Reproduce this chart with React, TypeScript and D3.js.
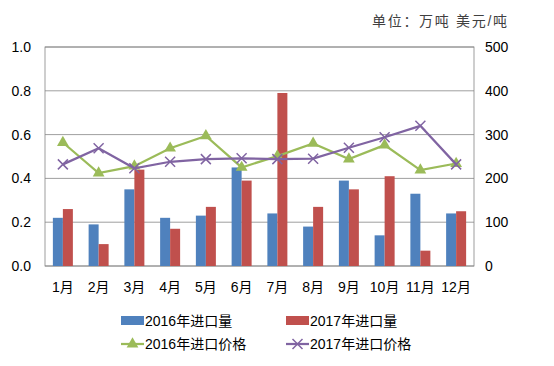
import React, { useEffect, useRef } from 'react';
import * as d3 from 'd3';

const months = ['1月', '2月', '3月', '4月', '5月', '6月', '7月', '8月', '9月', '10月', '11月', '12月'];
const volume2016 = [0.22, 0.19, 0.35, 0.22, 0.23, 0.45, 0.24, 0.18, 0.39, 0.14, 0.33, 0.24];
const volume2017 = [0.26, 0.10, 0.44, 0.17, 0.27, 0.39, 0.79, 0.27, 0.35, 0.41, 0.07, 0.25];
const price2016 = [282, 212, 228, 269, 297, 225, 251, 280, 244, 276, 219, 234];
const price2017 = [232, 269, 223, 238, 244, 246, 244, 245, 270, 294, 320, 232];
const leftTicks = [0, 0.2, 0.4, 0.6, 0.8, 1.0];
const rightTicks = [0, 100, 200, 300, 400, 500];

const BLUE = '#4F81BD';
const RED = '#C0504D';
const GREEN = '#9BBB59';
const PURPLE = '#8064A2';
const FONT = 'Arial, "Liberation Sans", "Noto Sans CJK SC", sans-serif';

const App = () => {
  const svgRef = useRef<SVGSVGElement>(null);

  useEffect(() => {
    const W = 554, H = 366;
    const left = 45, right = 474, top = 47, bottom = 266;

    const svg = d3.select(svgRef.current);
    svg.selectAll('*').remove();
    svg.attr('width', W).attr('height', H).style('background', 'white');

    const x = d3.scaleBand().domain(months).range([left, right]);
    const inner = d3.scaleBand().domain(['a', 'b']).range([0, 20]);
    const yL = d3.scaleLinear().domain([0, 1]).range([bottom, top]);
    const yR = d3.scaleLinear().domain([0, 500]).range([bottom, top]);
    const cx = (m: string) => (x(m) as number) + x.bandwidth() / 2;

    // unit note
    svg.append('text')
      .attr('x', 372).attr('y', 26)
      .attr('textLength', 135).attr('lengthAdjust', 'spacing')
      .attr('font-family', FONT)
      .attr('font-size', 14)
      .attr('fill', '#404040')
      .text('单位：万吨 美元/吨');

    // gridlines
    svg.append('g').selectAll('line')
      .data(leftTicks)
      .enter().append('line')
      .attr('x1', left).attr('x2', right)
      .attr('y1', d => yL(d)).attr('y2', d => yL(d))
      .attr('stroke', '#868686').attr('stroke-width', 0.8);

    svg.append('rect')
      .attr('x', left).attr('y', top)
      .attr('width', right - left).attr('height', bottom - top)
      .attr('fill', 'none').attr('stroke', '#868686').attr('stroke-width', 0.8);

    // left ticks
    svg.append('g').selectAll('text')
      .data(leftTicks)
      .enter().append('text')
      .attr('x', 31).attr('y', d => yL(d) + 5)
      .attr('text-anchor', 'end')
      .attr('font-family', FONT).attr('font-size', 14).attr('fill', '#000')
      .text(d => d.toFixed(1));

    // right ticks
    svg.append('g').selectAll('text')
      .data(rightTicks)
      .enter().append('text')
      .attr('x', 485).attr('y', d => yR(d) + 5)
      .attr('text-anchor', 'start')
      .attr('font-family', FONT).attr('font-size', 14).attr('fill', '#000')
      .text(d => d);

    // bars
    const bars = svg.append('g');
    bars.selectAll('rect.b16')
      .data(volume2016)
      .enter().append('rect')
      .attr('x', (d, i) => cx(months[i]) - 10 + (inner('a') as number))
      .attr('width', inner.bandwidth())
      .attr('y', d => yL(d))
      .attr('height', d => bottom - yL(d))
      .attr('fill', BLUE);
    bars.selectAll('rect.b17')
      .data(volume2017)
      .enter().append('rect')
      .attr('x', (d, i) => cx(months[i]) - 10 + (inner('b') as number))
      .attr('width', inner.bandwidth())
      .attr('y', d => yL(d))
      .attr('height', d => bottom - yL(d))
      .attr('fill', RED);

    // lines
    const line = d3.line<number>()
      .x((d, i) => cx(months[i]))
      .y(d => yR(d));

    svg.append('path')
      .datum(price2016)
      .attr('d', line)
      .attr('fill', 'none').attr('stroke', GREEN).attr('stroke-width', 2.25);
    const tri = d3.symbol().type(d3.symbolTriangle).size(60);
    svg.append('g').selectAll('path')
      .data(price2016)
      .enter().append('path')
      .attr('d', tri)
      .attr('transform', (d, i) => `translate(${cx(months[i])},${yR(d)})`)
      .attr('fill', GREEN);

    svg.append('path')
      .datum(price2017)
      .attr('d', line)
      .attr('fill', 'none').attr('stroke', PURPLE).attr('stroke-width', 2.25);
    const cross = (px: number, py: number, s: number) =>
      `M${px - s},${py - s}L${px + s},${py + s}M${px - s},${py + s}L${px + s},${py - s}`;
    svg.append('g').selectAll('path')
      .data(price2017)
      .enter().append('path')
      .attr('d', (d, i) => cross(cx(months[i]), yR(d), 5))
      .attr('stroke', PURPLE).attr('stroke-width', 1.5).attr('fill', 'none');

    // month labels
    svg.append('g').selectAll('text')
      .data(months)
      .enter().append('text')
      .attr('x', d => cx(d)).attr('y', 292)
      .attr('text-anchor', 'middle')
      .attr('font-family', FONT).attr('font-size', 14).attr('fill', '#000')
      .text(d => d);

    // legend
    const lg = svg.append('g').attr('font-family', FONT).attr('font-size', 14).attr('fill', '#000');
    lg.append('rect').attr('x', 121).attr('y', 316).attr('width', 23).attr('height', 9).attr('fill', BLUE);
    lg.append('text').attr('x', 145).attr('y', 326).text('2016年进口量');
    lg.append('rect').attr('x', 286).attr('y', 316).attr('width', 23).attr('height', 9).attr('fill', RED);
    lg.append('text').attr('x', 310).attr('y', 326).text('2017年进口量');

    lg.append('line').attr('x1', 121).attr('x2', 144).attr('y1', 344).attr('y2', 344)
      .attr('stroke', GREEN).attr('stroke-width', 2.25);
    lg.append('path').attr('d', tri).attr('transform', 'translate(132.5,344)').attr('fill', GREEN);
    lg.append('text').attr('x', 145).attr('y', 349).text('2016年进口价格');
    lg.append('line').attr('x1', 286).attr('x2', 309).attr('y1', 344).attr('y2', 344)
      .attr('stroke', PURPLE).attr('stroke-width', 2.25);
    lg.append('path').attr('d', cross(297.5, 344, 5))
      .attr('stroke', PURPLE).attr('stroke-width', 1.5).attr('fill', 'none');
    lg.append('text').attr('x', 310).attr('y', 349).text('2017年进口价格');
  }, []);

  return <svg ref={svgRef} style={{ position: 'absolute', left: 0, top: 0 }} />;
};

export default App;
